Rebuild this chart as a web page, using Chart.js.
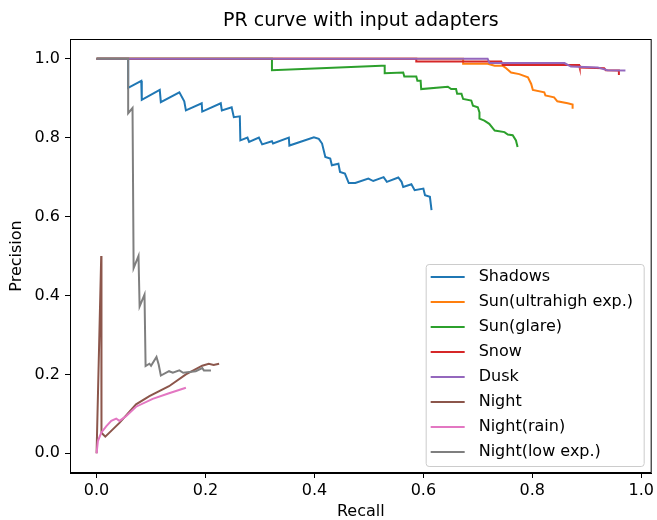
<!DOCTYPE html>
<html>
<head>
<meta charset="utf-8">
<script src="https://cdn.jsdelivr.net/npm/chart.js@4.4.1/dist/chart.umd.min.js"></script>
<style>
  html, body { margin: 0; padding: 0; background: #fff; }
  #wrap { width: 657px; height: 520px; }
</style>
</head>
<body>
<div id="wrap"><canvas id="prChart" width="657" height="520"></canvas></div>
<script>
// series names, in plotting order
const seriesNames = ['Shadows', 'Sun(ultrahigh exp.)', 'Sun(glare)', 'Snow', 'Dusk', 'Night', 'Night(rain)', 'Night(low exp.)'];
const seriesColors = ['#1f77b4', '#ff7f0e', '#2ca02c', '#d62728', '#9467bd', '#8c564b', '#e377c2', '#7f7f7f'];

// values
const shadowsRecall = [0, 0.058, 0.058, 0.082, 0.083, 0.116, 0.118, 0.152, 0.161, 0.164, 0.193, 0.194, 0.228, 0.230, 0.248, 0.252, 0.263, 0.264, 0.277, 0.280, 0.298, 0.304, 0.322, 0.324, 0.353, 0.354, 0.399, 0.408, 0.414, 0.420, 0.429, 0.432, 0.444, 0.447, 0.456, 0.463, 0.475, 0.499, 0.508, 0.527, 0.533, 0.554, 0.560, 0.563, 0.578, 0.584, 0.600, 0.603, 0.612, 0.615];
const shadowsPrecision = [1, 1, 0.926, 0.944, 0.896, 0.921, 0.890, 0.915, 0.892, 0.869, 0.887, 0.866, 0.887, 0.869, 0.877, 0.852, 0.854, 0.793, 0.800, 0.789, 0.800, 0.783, 0.791, 0.785, 0.800, 0.780, 0.801, 0.797, 0.785, 0.751, 0.747, 0.730, 0.734, 0.713, 0.709, 0.685, 0.685, 0.696, 0.690, 0.700, 0.688, 0.699, 0.688, 0.675, 0.682, 0.667, 0.671, 0.654, 0.650, 0.616];

const sunHighRecall = [0, 0.673, 0.673, 0.718, 0.731, 0.746, 0.752, 0.761, 0.776, 0.792, 0.798, 0.801, 0.822, 0.824, 0.840, 0.846, 0.865, 0.874, 0.874];
const sunHighPrecision = [1, 1, 0.987, 0.987, 0.982, 0.982, 0.976, 0.965, 0.961, 0.953, 0.936, 0.921, 0.915, 0.907, 0.902, 0.892, 0.887, 0.884, 0.873];

const sunGlareRecall = [0, 0.322, 0.322, 0.400, 0.523, 0.529, 0.529, 0.563, 0.565, 0.587, 0.589, 0.595, 0.596, 0.645, 0.651, 0.660, 0.662, 0.670, 0.673, 0.688, 0.691, 0.700, 0.703, 0.703, 0.712, 0.721, 0.731, 0.749, 0.755, 0.764, 0.770, 0.773];
const sunGlarePrecision = [1, 1, 0.971, 0.975, 0.982, 0.982, 0.963, 0.965, 0.955, 0.955, 0.944, 0.944, 0.923, 0.929, 0.923, 0.923, 0.911, 0.911, 0.898, 0.894, 0.881, 0.877, 0.864, 0.848, 0.843, 0.835, 0.818, 0.814, 0.808, 0.806, 0.793, 0.776];

const snowRecall = [0, 0.587, 0.587, 0.743, 0.746, 0.886, 0.887, 0.932, 0.935, 0.959, 0.959];
const snowPrecision = [1, 1, 0.993, 0.993, 0.984, 0.984, 0.978, 0.976, 0.971, 0.970, 0.959];

const duskRecall = [0, 0.718, 0.7215, 0.859, 0.871, 0.920, 0.938, 0.971];
const duskPrecision = [1, 1, 0.989, 0.989, 0.980, 0.978, 0.971, 0.970];

const nightRecall = [0, 0.0085, 0.009, 0.016, 0.042, 0.0725, 0.097, 0.133, 0.164, 0.194, 0.206, 0.215, 0.225];
const nightPrecision = [0, 0.50, 0.052, 0.042, 0.077, 0.124, 0.145, 0.170, 0.200, 0.222, 0.227, 0.224, 0.227];

const nightRainRecall = [0, 0.0024, 0.0085, 0.018, 0.027, 0.036, 0.042, 0.054, 0.0725, 0.103, 0.133, 0.164];
const nightRainPrecision = [0, 0.031, 0.052, 0.069, 0.082, 0.088, 0.082, 0.094, 0.118, 0.138, 0.152, 0.166];

const nightLowRecall = [0, 0.058, 0.058, 0.066, 0.068, 0.077, 0.079, 0.088, 0.090, 0.097, 0.100, 0.110, 0.114, 0.118, 0.133, 0.140, 0.152, 0.159, 0.182, 0.194, 0.197, 0.210];
const nightLowPrecision = [1, 1, 0.862, 0.875, 0.469, 0.500, 0.372, 0.402, 0.221, 0.227, 0.222, 0.244, 0.225, 0.197, 0.208, 0.204, 0.210, 0.204, 0.208, 0.216, 0.210, 0.210];

const xTicks = [0.0, 0.2, 0.4, 0.6, 0.8, 1.0];
const yTicks = [0.0, 0.2, 0.4, 0.6, 0.8, 1.0];

const allRecall = [shadowsRecall, sunHighRecall, sunGlareRecall, snowRecall, duskRecall, nightRecall, nightRainRecall, nightLowRecall];
const allPrecision = [shadowsPrecision, sunHighPrecision, sunGlarePrecision, snowPrecision, duskPrecision, nightPrecision, nightRainPrecision, nightLowPrecision];

const FONT = "'DejaVu Sans', sans-serif";

function toPoints(xs, ys) {
    return xs.map(function(x, i) { return { x: x, y: ys[i] }; });
}

const datasets = seriesNames.map(function(name, i) {
    return {
        label: name,
        data: toPoints(allRecall[i], allPrecision[i]),
        borderColor: seriesColors[i],
        backgroundColor: seriesColors[i],
        borderWidth: 2,
        pointRadius: 0,
        showLine: true,
        tension: 0,
        // later series on top, like matplotlib
        order: seriesNames.length - i
    };
});

// frame, title and in-plot legend
const decorPlugin = {
    id: 'decor',
    afterDraw: function(chart) {
        const ctx = chart.ctx;
        const a = chart.chartArea;
        ctx.save();

        // axes frame
        ctx.strokeStyle = '#000';
        ctx.lineWidth = 1;
        ctx.strokeRect(a.left + 0.5, a.top + 0.5, a.right - a.left - 1, a.bottom - a.top - 1);

        // title
        ctx.fillStyle = '#000';
        ctx.font = '19px ' + FONT;
        ctx.textAlign = 'center';
        ctx.textBaseline = 'middle';
        ctx.fillText('PR curve with input adapters', (a.left + a.right) / 2, 21);

        // legend box, lower right
        const rowH = 25;
        const boxW = 218;
        const boxH = rowH * seriesNames.length + 2;
        const bx = a.right - 8 - boxW;
        const by = a.bottom - 7 - boxH;
        ctx.beginPath();
        ctx.roundRect(bx + 0.5, by + 0.5, boxW, boxH, 3);
        ctx.fillStyle = 'rgba(255,255,255,0.8)';
        ctx.fill();
        ctx.strokeStyle = '#cccccc';
        ctx.lineWidth = 1;
        ctx.stroke();

        ctx.font = '16px ' + FONT;
        ctx.textAlign = 'left';
        seriesNames.forEach(function(name, i) {
            const cy = by + 13 + i * rowH;
            ctx.strokeStyle = seriesColors[i];
            ctx.lineWidth = 2;
            ctx.beginPath();
            ctx.moveTo(bx + 5, cy);
            ctx.lineTo(bx + 39, cy);
            ctx.stroke();
            ctx.fillStyle = '#000';
            ctx.fillText(name, bx + 53, cy);
        });
        ctx.restore();
    }
};

const chart = new Chart(document.getElementById('prChart').getContext('2d'), {
    type: 'scatter',
    data: { datasets: datasets },
    options: {
        responsive: false,
        animation: false,
        layout: { padding: { left: 0, right: 3, top: 39, bottom: 0 } },
        plugins: {
            legend: { display: false },
            tooltip: { enabled: false },
            title: { display: false }
        },
        scales: {
            x: {
                type: 'linear',
                min: -0.0488,
                max: 1.0192,
                afterBuildTicks: function(scale) {
                    scale.ticks = xTicks.map(function(v) { return { value: v }; });
                },
                afterFit: function(scale) { scale.height = 47; },
                grid: { drawOnChartArea: false, drawTicks: true, tickLength: 5, color: '#000' },
                border: { display: true, color: '#000' },
                ticks: {
                    padding: 3,
                    color: '#000',
                    font: { family: FONT, size: 16 },
                    maxRotation: 0,
                    callback: function(v) { return Number(v).toFixed(1); }
                },
                title: {
                    display: true,
                    text: 'Recall',
                    color: '#000',
                    font: { family: FONT, size: 16 },
                    padding: { top: 0, bottom: -1 }
                }
            },
            y: {
                type: 'linear',
                min: -0.05,
                max: 1.05,
                afterBuildTicks: function(scale) {
                    scale.ticks = yTicks.map(function(v) { return { value: v }; });
                },
                afterFit: function(scale) { scale.width = 70; },
                grid: { drawOnChartArea: false, drawTicks: true, tickLength: 5, color: '#000' },
                border: { display: true, color: '#000' },
                ticks: {
                    padding: 5,
                    color: '#000',
                    font: { family: FONT, size: 16 },
                    callback: function(v) { return Number(v).toFixed(1); }
                },
                title: {
                    display: true,
                    text: 'Precision',
                    color: '#000',
                    font: { family: FONT, size: 16 },
                    padding: { top: 7, bottom: 0 }
                }
            }
        }
    },
    plugins: [decorPlugin]
});
</script>
</body>
</html>
